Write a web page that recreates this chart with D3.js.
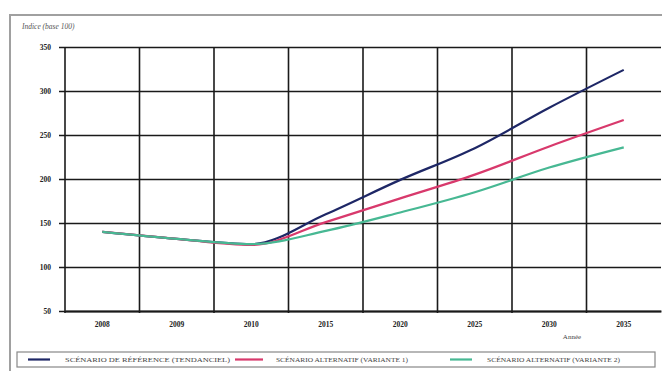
<!DOCTYPE html>
<html>
<head>
<meta charset="utf-8">
<script src="https://cdn.jsdelivr.net/npm/d3@7"></script>
<style>
  html, body { margin: 0; padding: 0; background: #fff; }
  svg { display: block; font-family: "Liberation Serif", "DejaVu Serif", serif; }
</style>
</head>
<body>
<svg id="chart" width="662" height="371"></svg>
<script>
// Years on the horizontal axis
const years = ["2008", "2009", "2010", "2015", "2020", "2025", "2030", "2035"];
// Index values for each scenario
const reference = [140, 132, 126, 160, 199, 235, 281, 324];
const variant1  = [140, 132, 125, 151, 178, 205, 237, 267];
const variant2  = [140, 132, 126, 141, 162, 185, 213, 236];
// Vertical axis ticks
const yTicks = [50, 100, 150, 200, 250, 300, 350];
const seriesNames = [
  "SCÉNARIO DE RÉFÉRENCE (TENDANCIEL)",
  "SCÉNARIO ALTERNATIF (VARIANTE 1)",
  "SCÉNARIO ALTERNATIF (VARIANTE 2)"
];
const seriesColors = ["#1e2766", "#d8396c", "#47b893"];

const svg = d3.select("#chart");
const plot = { left: 65, right: 661, top: 47, bottom: 311 };

const x = d3.scaleBand().domain(years).range([plot.left, plot.right]).paddingInner(0).paddingOuter(0);
const y = d3.scaleLinear().domain([50, 350]).range([plot.bottom, plot.top]);

// Outer frame
svg.append("path")
  .attr("d", `M10,371 V15 H662`)
  .attr("fill", "none").attr("stroke", "#a0a0a0").attr("stroke-width", 2);

// Unit label
svg.append("text")
  .attr("x", 22).attr("y", 29)
  .attr("font-size", 7.5).attr("font-style", "italic").attr("fill", "#555")
  .text("Indice (base 100)");

// Horizontal grid + y axis
const yAxis = d3.axisLeft(y).tickValues(yTicks).tickSize(-(plot.right - plot.left)).tickPadding(0).tickFormat(d3.format("d"));
const gy = svg.append("g").attr("transform", `translate(${plot.left},0)`).call(yAxis);
gy.select(".domain").remove();
gy.selectAll(".tick line")
  .attr("x1", -6).attr("stroke", "#1a1a1a").attr("stroke-width", 1.5);
gy.selectAll(".tick text")
  .attr("x", -14).attr("font-size", 7.5).attr("font-weight", "bold").attr("fill", "#222")
  .attr("font-family", "Liberation Serif, serif");

// Vertical grid lines at band boundaries
const bounds = years.map(d => x(d));
svg.append("g").selectAll("line").data(bounds).join("line")
  .attr("x1", d => d).attr("x2", d => d)
  .attr("y1", plot.top).attr("y2", plot.bottom + 2)
  .attr("stroke", "#1a1a1a").attr("stroke-width", 1.6);

// x axis
const xAxis = d3.axisBottom(x).tickSize(0).tickPadding(11);
const gx = svg.append("g").attr("transform", `translate(0,${plot.bottom})`).call(xAxis);
gx.select(".domain").attr("stroke", "#1a1a1a").attr("stroke-width", 1.8);
gx.selectAll(".tick text")
  .attr("font-size", 7.5).attr("font-weight", "bold").attr("fill", "#222")
  .attr("font-family", "Liberation Serif, serif");

svg.append("text")
  .attr("x", 572).attr("y", 339).attr("text-anchor", "middle")
  .attr("font-size", 7).attr("fill", "#444")
  .text("Année");

// Lines
const line = d3.line()
  .x((d, i) => x(years[i]) + x.bandwidth() / 2)
  .y(d => y(d))
  .curve(d3.curveMonotoneX);

const allSeries = [reference, variant1, variant2];
svg.append("g").selectAll("path").data(allSeries).join("path")
  .attr("d", d => line(d))
  .attr("fill", "none")
  .attr("stroke", (d, i) => seriesColors[i])
  .attr("stroke-width", 2.2)
  .attr("stroke-linejoin", "round");

// Legend
const lg = svg.append("g");
lg.append("rect")
  .attr("x", 17).attr("y", 352).attr("width", 638).attr("height", 15)
  .attr("fill", "#fff").attr("stroke", "#888").attr("stroke-width", 1.2);
const legendItems = [
  { x0: 28, x1: 50, tx: 65, tw: 165 },
  { x0: 235, x1: 263, tx: 276, tw: 132 },
  { x0: 450, x1: 472, tx: 487, tw: 133 }
];
legendItems.forEach((it, i) => {
  lg.append("line")
    .attr("x1", it.x0).attr("x2", it.x1).attr("y1", 359.5).attr("y2", 359.5)
    .attr("stroke", seriesColors[i]).attr("stroke-width", 2.2);
  lg.append("text")
    .attr("x", it.tx).attr("y", 362)
    .attr("font-size", 7).attr("fill", "#444")
    .attr("textLength", it.tw).attr("lengthAdjust", "spacingAndGlyphs")
    .text(seriesNames[i]);
});
</script>
</body>
</html>
